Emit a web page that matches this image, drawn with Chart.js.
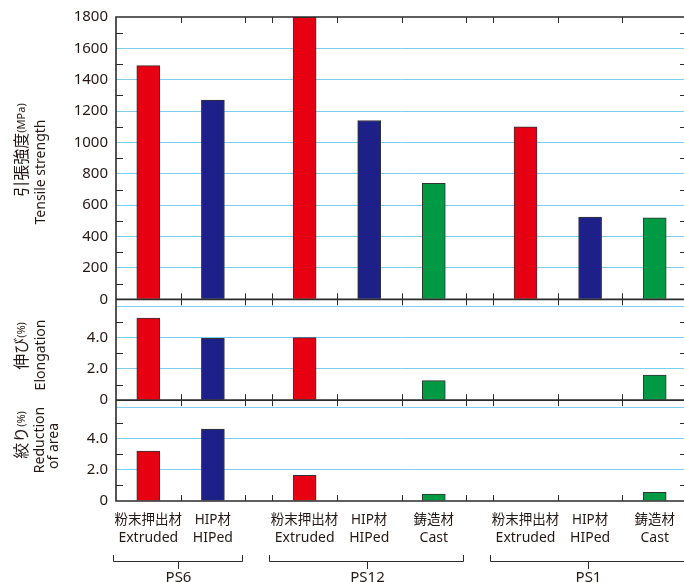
<!DOCTYPE html>
<html>
<head>
<meta charset="utf-8">
<script src="https://cdn.jsdelivr.net/npm/chart.js@4.4.1/dist/chart.umd.min.js"></script>
<style>
  html, body { margin: 0; padding: 0; background: #fff; overflow: hidden; }
  #wrap { width: 684px; height: 582px; overflow: hidden; }
</style>
</head>
<body>
<div id="wrap"><canvas id="chart" width="700" height="582"></canvas></div>
<script>
// categories (alloy group + material), left to right
const categoryGroup = ['PS6', 'PS6', 'PS12', 'PS12', 'PS12', 'PS1', 'PS1', 'PS1'];
const categoryMaterial = ['Extruded', 'HIPed', 'Extruded', 'HIPed', 'Cast', 'Extruded', 'HIPed', 'Cast'];
const materialJa = { Extruded: '粉末押出材', HIPed: 'HIP材', Cast: '鋳造材' };

// values (null = no bar)
const tensileStrength = [1490, 1270, 1800, 1140, 740, 1100, 525, 520];   // MPa
const elongation = [5.25, 3.95, 4.0, null, 1.25, null, null, 1.6];     // %
const reductionOfArea = [3.2, 4.6, 1.65, null, 0.45, null, null, 0.55]; // %

// axis ticks
const tensileTicks = [0, 200, 400, 600, 800, 1000, 1200, 1400, 1600, 1800];
const percentTicks = [0, 2, 4, 6];

const colors = { Extruded: '#e60012', HIPed: '#1d2088', Cast: '#009944' };
const AXIS = '#2b2b2b';
const GRID = '#7ccdf0';
const TEXT = '#231815';
const FONT = "'Noto Sans', 'Noto Sans CJK JP', sans-serif";

// slot positions along x: one unit per bar slot, small gap between groups
const GAP = 0.42;
const slotStart = [];
let pos = 0;
categoryGroup.forEach((g, i) => {
    if (i > 0 && g !== categoryGroup[i - 1]) pos += GAP;
    slotStart.push(pos);
    pos += 1;
});
const xEnd = pos;

function points(values) {
    const out = [];
    values.forEach((v, i) => {
        if (v !== null) out.push({ x: slotStart[i] + 0.5, y: v });
    });
    return out;
}
function pointColors(values) {
    return values.map((v, i) => colors[categoryMaterial[i]]).filter((c, i) => values[i] !== null);
}

function makeDataset(values, axis) {
    return {
        data: points(values),
        yAxisID: axis,
        backgroundColor: pointColors(values),
        borderColor: '#333',
        borderWidth: 1,
        barThickness: 23,
        grouped: false
    };
}

function yScale(weight, stackWeight, max, ticks, fmt, hideTop) {
    return {
        type: 'linear',
        position: 'left',
        stack: 'panels',
        stackWeight: stackWeight,
        weight: weight,
        min: 0,
        max: max,
        afterBuildTicks: s => { s.ticks = ticks.map(v => ({ value: v })); },
        afterFit: s => { s.width = 116; },
        border: { display: false },
        grid: {
            drawTicks: false,
            lineWidth: 1,
            color: c => (c.tick.value === 0 || (hideTop && c.tick.value === max)) ? 'rgba(0,0,0,0)' : GRID
        },
        ticks: {
            autoSkip: false,
            padding: 8,
            color: TEXT,
            font: { family: FONT, size: 15 },
            callback: fmt
        }
    };
}

function drawVTitle(ctx, lineParts, x, yc) {
    ctx.save();
    ctx.translate(x, yc);
    ctx.rotate(-Math.PI / 2);
    let total = 0;
    lineParts.forEach(p => { ctx.font = p.font; total += ctx.measureText(p.text).width; });
    let cx = -total / 2;
    ctx.textBaseline = 'middle';
    ctx.textAlign = 'left';
    lineParts.forEach(p => {
        ctx.font = p.font;
        ctx.fillText(p.text, cx, p.dy || 0);
        cx += ctx.measureText(p.text).width;
    });
    ctx.restore();
}

const decor = {
    id: 'decor',
    afterDatasetsDraw(chart) {
        const ctx = chart.ctx;
        const xs = chart.scales.x;
        const panels = [chart.scales.y1, chart.scales.y2, chart.scales.y3];
        const left = chart.chartArea.left;
        const right = chart.chartArea.right;
        ctx.save();
        ctx.strokeStyle = AXIS;

        // minor y ticks (inward, left and right)
        ctx.lineWidth = 1;
        const minors = [[100, 300, 500, 700, 900, 1100, 1300, 1500, 1700], [1, 3, 5], [1, 3, 5]];
        panels.forEach((s, k) => {
            minors[k].forEach(v => {
                const y = Math.round(s.getPixelForValue(v)) + 0.5;
                ctx.beginPath();
                ctx.moveTo(left, y); ctx.lineTo(left + 7, y);
                ctx.moveTo(right - 7, y); ctx.lineTo(right, y);
                ctx.stroke();
            });
        });

        // x ticks at slot boundaries, inward at each panel edge
        const bounds = new Set();
        slotStart.forEach(s => { if (s > 0) bounds.add(s); bounds.add(s + 1); });
        bounds.forEach(b => {
            const x = Math.round(xs.getPixelForValue(b)) + 0.5;
            panels.forEach(s => {
                ctx.beginPath();
                ctx.moveTo(x, s.top); ctx.lineTo(x, s.top + 6);
                ctx.moveTo(x, s.bottom - 6); ctx.lineTo(x, s.bottom);
                ctx.stroke();
            });
        });

        // frame lines
        ctx.lineWidth = 1.6;
        ctx.beginPath();
        ctx.moveTo(left, chart.scales.y1.top); ctx.lineTo(right, chart.scales.y1.top);
        panels.forEach(s => {
            const y = s.getPixelForValue(0);
            ctx.moveTo(left, y); ctx.lineTo(right, y);
        });
        ctx.moveTo(left, chart.scales.y1.top - 0.8); ctx.lineTo(left, chart.scales.y3.bottom + 0.8);
        ctx.stroke();
        ctx.restore();
    },
    afterDraw(chart) {
        const ctx = chart.ctx;
        const xs = chart.scales.x;
        ctx.save();
        ctx.fillStyle = TEXT;
        ctx.strokeStyle = AXIS;

        // y axis titles
        const big = '16px ' + FONT;
        const small = '11px ' + FONT;
        const en = '14px ' + FONT;
        drawVTitle(ctx, [{ text: '引張強度', font: big }, { text: '(MPa)', font: small }], 22, 150);
        drawVTitle(ctx, [{ text: 'Tensile strength', font: en }], 41, 172);
        drawVTitle(ctx, [{ text: '伸び', font: big }, { text: '(%)', font: small }], 22, 346);
        drawVTitle(ctx, [{ text: 'Elongation', font: en }], 41, 355);
        drawVTitle(ctx, [{ text: '絞り', font: big }, { text: '(%)', font: small }], 22, 435);
        drawVTitle(ctx, [{ text: 'Reduction', font: en }], 40, 440);
        drawVTitle(ctx, [{ text: 'of area', font: en }], 54, 446);

        // category labels
        ctx.textAlign = 'center';
        ctx.textBaseline = 'middle';
        categoryMaterial.forEach((m, i) => {
            const x = xs.getPixelForValue(slotStart[i] + 0.5);
            ctx.font = '13.5px ' + FONT;
            ctx.fillText(materialJa[m], x, 520);
            ctx.font = '14px ' + FONT;
            ctx.fillText(m, x, 538);
        });

        // group brackets
        ctx.lineWidth = 1;
        const groups = [...new Set(categoryGroup)];
        groups.forEach(g => {
            const idx = categoryGroup.map((c, i) => c === g ? i : -1).filter(i => i >= 0);
            const x0 = Math.round(xs.getPixelForValue(slotStart[idx[0]])) - 2.5;
            const x1 = Math.round(xs.getPixelForValue(slotStart[idx[idx.length - 1]] + 1)) - 2.5;
            const xm = Math.round((x0 + x1) / 2) + 0.5;
            ctx.beginPath();
            ctx.moveTo(x0, 555); ctx.lineTo(x0, 561.5); ctx.lineTo(x1, 561.5); ctx.lineTo(x1, 555);
            ctx.moveTo(xm, 561.5); ctx.lineTo(xm, 569);
            ctx.stroke();
            ctx.font = '15px ' + FONT;
            ctx.fillText(g, xm, 578);
        });
        ctx.restore();
    }
};

new Chart(document.getElementById('chart'), {
    type: 'bar',
    data: {
        datasets: [
            makeDataset(tensileStrength, 'y1'),
            makeDataset(elongation, 'y2'),
            makeDataset(reductionOfArea, 'y3')
        ]
    },
    options: {
        responsive: false,
        animation: false,
        devicePixelRatio: 1,
        layout: { padding: { top: 16, right: 13, bottom: 81, left: 0 } },
        plugins: { legend: { display: false }, tooltip: { enabled: false } },
        scales: {
            x: { type: 'linear', min: 0, max: xEnd, offset: false, display: false },
            y1: yScale(3, 2.8, 1800, tensileTicks, v => String(v), true),
            y2: yScale(2, 1, 6.45, percentTicks, v => v === 6 ? '' : (v === 0 ? '0' : v.toFixed(1)), false),
            y3: yScale(1, 1, 6.45, percentTicks, v => v === 6 ? '' : (v === 0 ? '0' : v.toFixed(1)), false)
        }
    },
    plugins: [decor]
});
</script>
</body>
</html>
